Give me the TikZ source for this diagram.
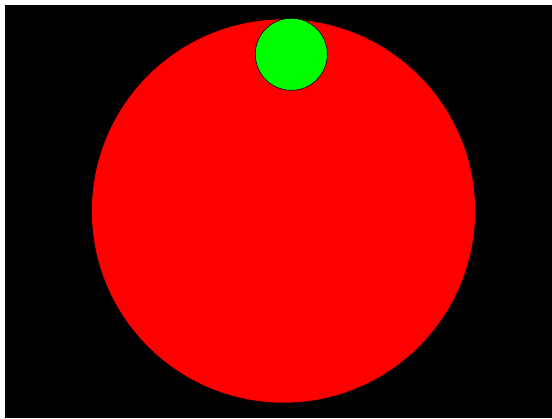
\documentclass[tikz,border=0pt]{standalone}
\usetikzlibrary{positioning}

\tikzset{
  ball/.style={circle, inner sep=0pt, draw=black, line width=0.6pt}
}

\begin{document}
\begin{tikzpicture}[x=1bp, y=-1bp]
  \useasboundingbox (0,0) rectangle (552,418);
  \fill[white] (0,0) rectangle (552,418);
  \fill[black] (5,5) rectangle (552,418);
  % big red disc and small green one on top
  \node[ball, fill=red, minimum size=384bp] (bigball) at (283.5,211) {};
  \node[ball, fill=green, minimum size=72bp] (smallball) at (291.3,54.3) {};
\end{tikzpicture}
\end{document}
